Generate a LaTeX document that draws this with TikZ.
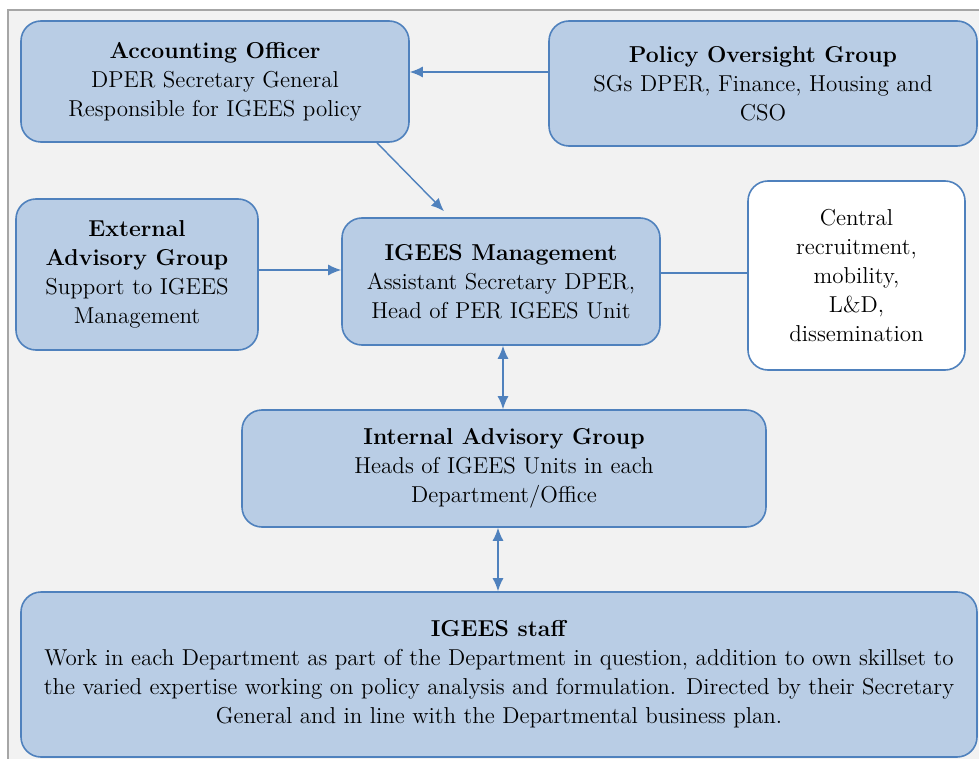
\documentclass[tikz,border=0pt]{standalone}
\usepackage{tikz}
\usetikzlibrary{arrows.meta}

\definecolor{boxfill}{HTML}{B9CDE5}
\definecolor{boxline}{HTML}{4F81BD}
\definecolor{bggray}{HTML}{F2F2F2}
\definecolor{framegray}{HTML}{A6A6A6}

\begin{document}
\begin{tikzpicture}[x=0.5pt,y=-0.5pt,
  box/.style={draw=boxline,fill=boxfill,line width=0.8pt,rounded corners=10pt,
    align=center,inner sep=0pt,font=\fontsize{11.5}{14.5}\selectfont},
  whitebox/.style={box,fill=white},
  arr/.style={draw=boxline,line width=0.7pt,-{Latex[length=6.5pt,width=5.5pt]}},
  biarr/.style={arr,{Latex[length=6.5pt,width=5.5pt]}-{Latex[length=6.5pt,width=5.5pt]}},
  plain/.style={draw=boxline,line width=0.7pt}]
\useasboundingbox (0,0) rectangle (979,759);
\clip (0,0) rectangle (979,759);
\fill[white] (0,0) rectangle (979,759);
\draw[framegray,fill=bggray,line width=1pt] (8,10) rectangle (990,770);

% top row
\node[box,minimum width=194pt,minimum height=60.5pt] (acc) at (215,81.5)
  {\textbf{Accounting Officer}\\DPER Secretary General\\Responsible for IGEES policy};
\node[box,minimum width=214pt,minimum height=62.5pt] (policy) at (763,83.5)
  {\textbf{Policy Oversight Group}\\SGs DPER, Finance, Housing and\\CSO};

% middle row
\node[box,minimum width=121pt,minimum height=75.5pt] (ext) at (137,274.5)
  {\textbf{External}\\\textbf{Advisory Group}\\Support to IGEES\\Management};
\node[box,minimum width=159pt,minimum height=63.5pt] (mgmt) at (501,281.5)
  {\textbf{IGEES Management}\\Assistant Secretary DPER,\\Head of PER IGEES Unit};
\node[whitebox,minimum width=108.5pt,minimum height=94.5pt] (central) at (856.5,275.5)
  {\fontsize{11.5}{15.5}\selectfont Central\\recruitment,\\mobility,\\L\&D,\\dissemination};

% lower rows
\node[box,minimum width=262pt,minimum height=58.5pt] (internal) at (504,468.5)
  {\textbf{Internal Advisory Group}\\Heads of IGEES Units in each\\Department/Office};
\node[box,minimum width=478pt,minimum height=82.5pt] (staff) at (499,674.5)
  {\textbf{IGEES staff}\\Work in each Department as part of the Department in question, addition to own skillset to\\the varied expertise working on policy analysis and formulation. Directed by their Secretary\\General and in line with the Departmental business plan.};

% connectors
\draw[arr] ([yshift=5.75pt]policy.west) -- ([yshift=5.75pt]policy.west -| acc.east);
\draw[arr] ([xshift=81pt]acc.south) -- ([xshift=-28.5pt,yshift=3pt]mgmt.north);
\draw[arr] ([yshift=2.25pt]ext.east) -- ([yshift=2.25pt]ext.east -| mgmt.west);
\draw[plain] ([yshift=4.25pt]mgmt.east) -- ([yshift=4.25pt]mgmt.east -| central.west);
\draw[biarr] ([xshift=1pt]mgmt.south) -- ([xshift=1pt]mgmt.south |- internal.north);
\draw[biarr] ([xshift=-3pt]internal.south) -- ([xshift=-3pt]internal.south |- staff.north);
\end{tikzpicture}
\end{document}
